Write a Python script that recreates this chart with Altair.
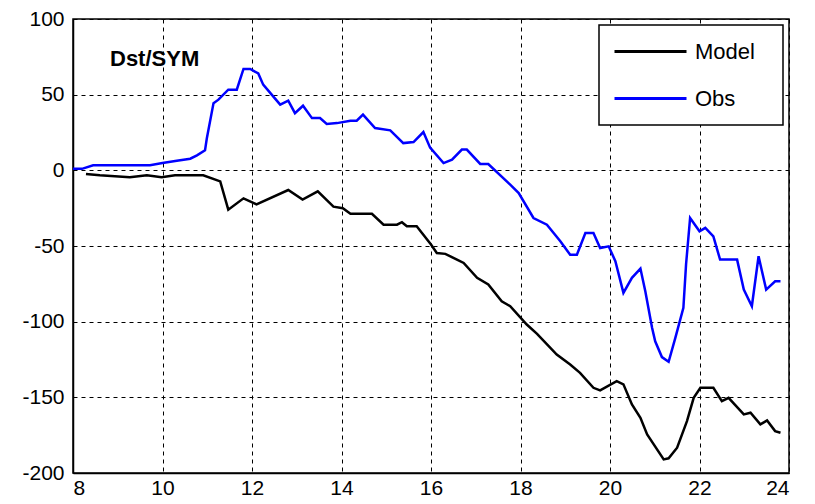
import altair as alt
import pandas as pd

# ---- data ----
series_names = ["Model", "Obs"]
series_colors = ["#000000", "#0000ff"]

obs_x = [8.0, 8.2, 8.45, 9.72, 10.0, 10.32, 10.62, 10.77, 10.95, 10.99,
         11.14, 11.25, 11.47, 11.66, 11.81, 11.96, 12.14, 12.25, 12.44, 12.63,
         12.81, 12.96, 13.14, 13.34, 13.52, 13.67, 13.9, 14.2, 14.34, 14.48,
         14.75, 15.09, 15.38, 15.61, 15.83, 15.98, 16.28, 16.47, 16.69, 16.8,
         17.1, 17.28, 17.77, 17.96, 18.29, 18.59, 18.89, 19.11, 19.26, 19.45,
         19.63, 19.78, 19.97, 20.12, 20.3, 20.49, 20.68, 20.79, 20.94, 21.01,
         21.16, 21.31, 21.46, 21.64, 21.7, 21.79, 22.0, 22.13, 22.31, 22.46,
         22.84, 22.99, 23.17, 23.32, 23.49, 23.69, 23.81]
obs_y = [1, 1, 3.3, 3.3, 4.8, 6.4, 7.7, 9.9, 13.2, 21,
         44.4, 46.7, 53.3, 53.3, 67, 67, 64, 56.6, 50, 43.4,
         46, 37.8, 42.7, 34.5, 34.5, 30.6, 31.2, 32.8, 32.8, 36.8,
         27.9, 26.4, 18, 18.7, 25.3, 15, 4.8, 7.1, 13.7, 13.7,
         4.2, 4.2, -9.5, -15, -31.5, -35.9, -46.9, -55.7, -55.7, -41.4,
         -41.4, -51.3, -50.2, -60, -81, -71, -64.9, -80, -104, -113,
         -123.4, -126.5, -110.7, -90.9, -62, -31.5, -40.3, -38, -43.6, -59,
         -59, -78.8, -89.8, -56.8, -78.8, -73.3, -73.3]

mod_x = [8.29, 8.6, 9.27, 9.65, 9.98, 10.28, 10.91, 11.29, 11.47, 11.81,
         12.1, 12.81, 13.13, 13.47, 13.82, 14.03, 14.2, 14.68, 14.94, 15.24,
         15.35, 15.46, 15.68, 16.0, 16.13, 16.32, 16.58, 16.73, 17.03, 17.28,
         17.58, 17.77, 18.14, 18.37, 18.81, 19.11, 19.33, 19.63, 19.78, 20.15,
         20.3, 20.49, 20.68, 20.83, 21.2, 21.31, 21.5, 21.72, 21.87, 22.02,
         22.31, 22.5, 22.65, 22.99, 23.14, 23.36, 23.51, 23.69, 23.81]
mod_y = [-2.4, -3.3, -4.6, -3.3, -4.6, -3.3, -3.3, -7.3, -26, -18.5,
         -22.5, -13, -19.3, -13.9, -24, -25, -28.7, -28.7, -35.9, -35.9,
         -34.3, -37, -37, -49, -54.6, -55.2, -59, -61.2, -71, -75.4,
         -86.5, -89.8, -101.9, -108, -121.7, -128.3, -133.8, -143.7, -145.4, -139.3,
         -141.4, -154.7, -163.5, -174.5, -191, -190.3, -183.3, -165.7, -150.3, -143.7,
         -143.7, -152.5, -150.3, -161.3, -160.2, -167.9, -165.3, -172.3, -173.4]

x_ticks = [8, 10, 12, 14, 16, 18, 20, 22, 24]
y_ticks = [-200, -150, -100, -50, 0, 50, 100]
annotation = ["Dst/SYM"]

# ---- build table ----
df = pd.concat([
    pd.DataFrame({"t": mod_x, "v": mod_y, "series": series_names[0]}),
    pd.DataFrame({"t": obs_x, "v": obs_y, "series": series_names[1]}),
], ignore_index=True)

FONT = "Liberation Sans"

# legend frame (drawn as a decoration box behind the legend entries)
legend_box = alt.Chart(pd.DataFrame({"k": [0]})).mark_rect(
    fill="white", stroke="#000000", strokeWidth=1.5
).encode(x=alt.value(526), x2=alt.value(710), y=alt.value(6), y2=alt.value(106))

lines = alt.Chart(df).mark_line(strokeWidth=2.5).encode(
    x=alt.X("t:Q",
            scale=alt.Scale(domain=[8, 24], nice=False, zero=False),
            axis=alt.Axis(values=x_ticks, title=None, labelPadding=4,
                          labelExpr="'' + datum.value")),
    y=alt.Y("v:Q",
            scale=alt.Scale(domain=[-200, 100], nice=False, zero=False),
            axis=alt.Axis(values=y_ticks, title=None, labelPadding=9,
                          labelExpr="'' + datum.value")),
    color=alt.Color("series:N",
                    scale=alt.Scale(domain=series_names, range=series_colors),
                    legend=alt.Legend(
                        title=None, orient="none", legendX=526, legendY=6,
                        symbolType="stroke", symbolSize=5184,
                        symbolStrokeWidth=3, clipHeight=25, rowPadding=22,
                        padding=14,
                        labelFont=FONT, labelFontSize=22, labelColor="#000000",
                        labelOffset=7)),
)

title_txt = alt.Chart(pd.DataFrame({"label": annotation})).mark_text(
    font=FONT, fontSize=22, fontWeight="bold", align="left",
    baseline="middle", color="#000000"
).encode(text="label:N", x=alt.value(37), y=alt.value(40))

chart = alt.layer(legend_box, lines, title_txt).properties(
    width=716, height=454,
    autosize=alt.AutoSizeParams(type="none"),
    padding={"left": 65, "top": 11, "right": 14, "bottom": 29},
).configure_axis(
    grid=True, gridColor="#000000", gridDash=[4, 4], gridWidth=1, gridOpacity=1,
    domainColor="#000000", domainWidth=1.5, ticks=False,
    labelFont=FONT, labelFontSize=21, labelColor="#000000",
).configure_view(stroke="#000000", strokeWidth=1.5)

chart.save("out.html", embed_options={"renderer": "svg", "actions": False})
